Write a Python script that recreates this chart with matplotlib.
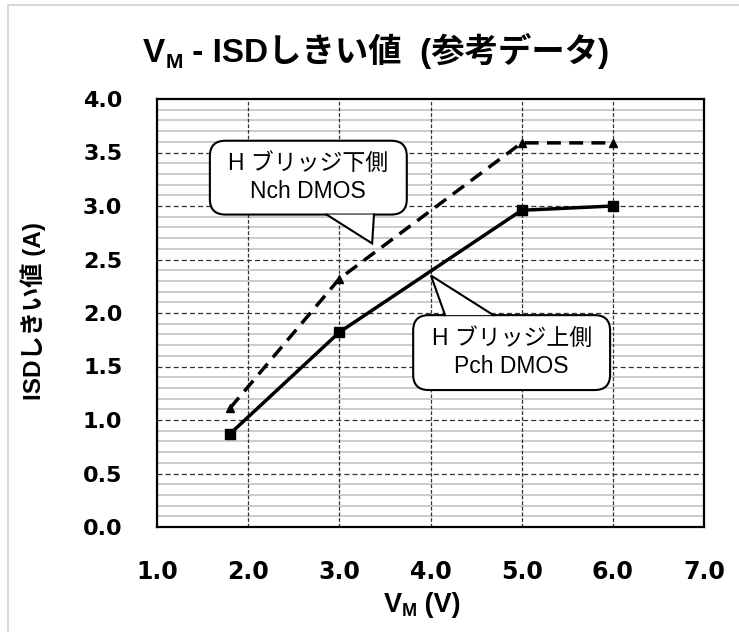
import numpy as np
import matplotlib
matplotlib.use('Agg')
import matplotlib.pyplot as plt
from matplotlib.patches import FancyBboxPatch, Polygon, Rectangle

# data
vm = [1.8, 3.0, 5.0, 6.0]
isd_pch = [0.87, 1.82, 2.96, 3.00]   # H bridge high side
isd_nch = [1.11, 2.32, 3.59, 3.59]   # H bridge low side
x_ticks = [1.0, 2.0, 3.0, 4.0, 5.0, 6.0, 7.0]
y_ticks = [0.0, 0.5, 1.0, 1.5, 2.0, 2.5, 3.0, 3.5, 4.0]
label_nch = 'H ブリッジ下側\nNch DMOS'
label_pch = 'H ブリッジ上側\nPch DMOS'

FAM = ['Liberation Sans', 'Noto Sans CJK JP', 'DejaVu Sans']
W, H = 739, 632

fig = plt.figure(figsize=(W / 100, H / 100), dpi=100)
fig.patch.set_facecolor('white')
# light chart-area frame (open on the right/bottom like the reference)
fig.add_artist(Rectangle((8 / W, -0.05), 1.2, 1 - 5 / H + 0.05, transform=fig.transFigure,
                         fill=False, edgecolor='#d9d9d9', lw=1.5))

ax = fig.add_axes([157 / W, 1 - 527 / H, (704 - 157) / W, (527 - 99) / H])
ax.set_xlim(1.0, 7.0)
ax.set_ylim(0.0, 4.0)

# grid: minor solid grey every 0.1, major dashed every 0.5 / 1.0
for yv in np.arange(0.1, 4.0, 0.1):
    if abs(yv * 2 - round(yv * 2)) > 1e-6:
        ax.axhline(yv, color='#c8c8c8', lw=1.3, zorder=1)
for yv in y_ticks[1:-1]:
    ax.axhline(yv, color='#333333', lw=0.9, ls=(0, (4, 2.5)), zorder=1.5)
for xv in x_ticks[1:-1]:
    ax.axvline(xv, color='#333333', lw=0.9, ls=(0, (3, 1.5)), zorder=1.5)

ax.plot(vm, isd_nch, color='black', lw=2.5, ls=(0, (4, 2.4)), marker='^',
        markersize=6, zorder=3)
ax.plot(vm, isd_pch, color='black', lw=2.5, marker='s', markersize=7.5, zorder=3)

ax.set_xticks(x_ticks)
ax.set_yticks(y_ticks)
ax.set_xticklabels(['%.1f' % v for v in x_ticks], fontsize=17, fontweight='bold',
                   family='DejaVu Sans')
ax.set_yticklabels(['%.1f' % v for v in y_ticks], fontsize=16, fontweight='bold',
                   family='DejaVu Sans')
ax.tick_params(axis='x', length=0, pad=24)
ax.tick_params(axis='y', length=0, pad=25)
for s in ax.spines.values():
    s.set_linewidth(1.6)
    s.set_color('black')
    s.set_zorder(4)


def callout(box, base, tip, text):
    # box = (x0, y0, x1, y1) in data units, base = two x values on the edge, tip = (x, y)
    x0, y0, x1, y1 = box
    p = FancyBboxPatch((x0, y0), x1 - x0, y1 - y0,
                       boxstyle='round,pad=0,rounding_size=0.17', mutation_aspect=0.85,
                       facecolor='white', edgecolor='black', lw=1.5, zorder=5)
    ax.add_patch(p)
    ey = y0 if tip[1] < y0 else y1
    ax.add_patch(Polygon([(base[0], ey), tip, (base[1], ey)], closed=True,
                         facecolor='white', edgecolor='none', zorder=5.5))
    ax.plot([base[0], tip[0], base[1]], [ey, tip[1], ey], color='black', lw=1.5,
            zorder=5.6, solid_joinstyle='miter')
    ax.text((x0 + x1) / 2, (y0 + y1) / 2, text, ha='center', va='center',
            fontsize=16.5, family=FAM, linespacing=1.3, zorder=6)


callout((1.58, 2.92, 3.74, 3.61), (2.86, 3.38), (3.36, 2.65), label_nch)
callout((3.81, 1.28, 5.97, 1.98), (4.16, 4.69), (4.005, 2.35), label_pch)

# y label
fig.text(33 / W, 1 - 311 / H, 'ISDしきい値 (A)', rotation=90, ha='center', va='center',
         fontsize=17.5, fontweight='bold', family=FAM)

renderer = fig.canvas.get_renderer()


def pieces_text(pieces, cx, base_y):
    # pieces: (string, fontsize, dy px downward); centred at cx (px), baseline base_y (px from top)
    items = []
    for s, size, dy in pieces:
        t = fig.text(0, 0, s, fontsize=size, fontweight='bold', family=FAM,
                     ha='left', va='baseline')
        items.append((t, dy, t.get_window_extent(renderer).width))
    total = sum(w for _, _, w in items)
    x = cx - total / 2
    for t, dy, w in items:
        t.set_position((x / W, (H - base_y - dy) / H))
        x += w


pieces_text([('V', 24, 0), ('M', 15, 6), (' - ISDしきい値  (参考データ)', 24, 0)], 376, 62)
pieces_text([('V', 19.5, 0), ('M', 13, 4), (' (V)', 19.5, 0)], 422, 612)

fig.savefig('out.png', dpi=100)
